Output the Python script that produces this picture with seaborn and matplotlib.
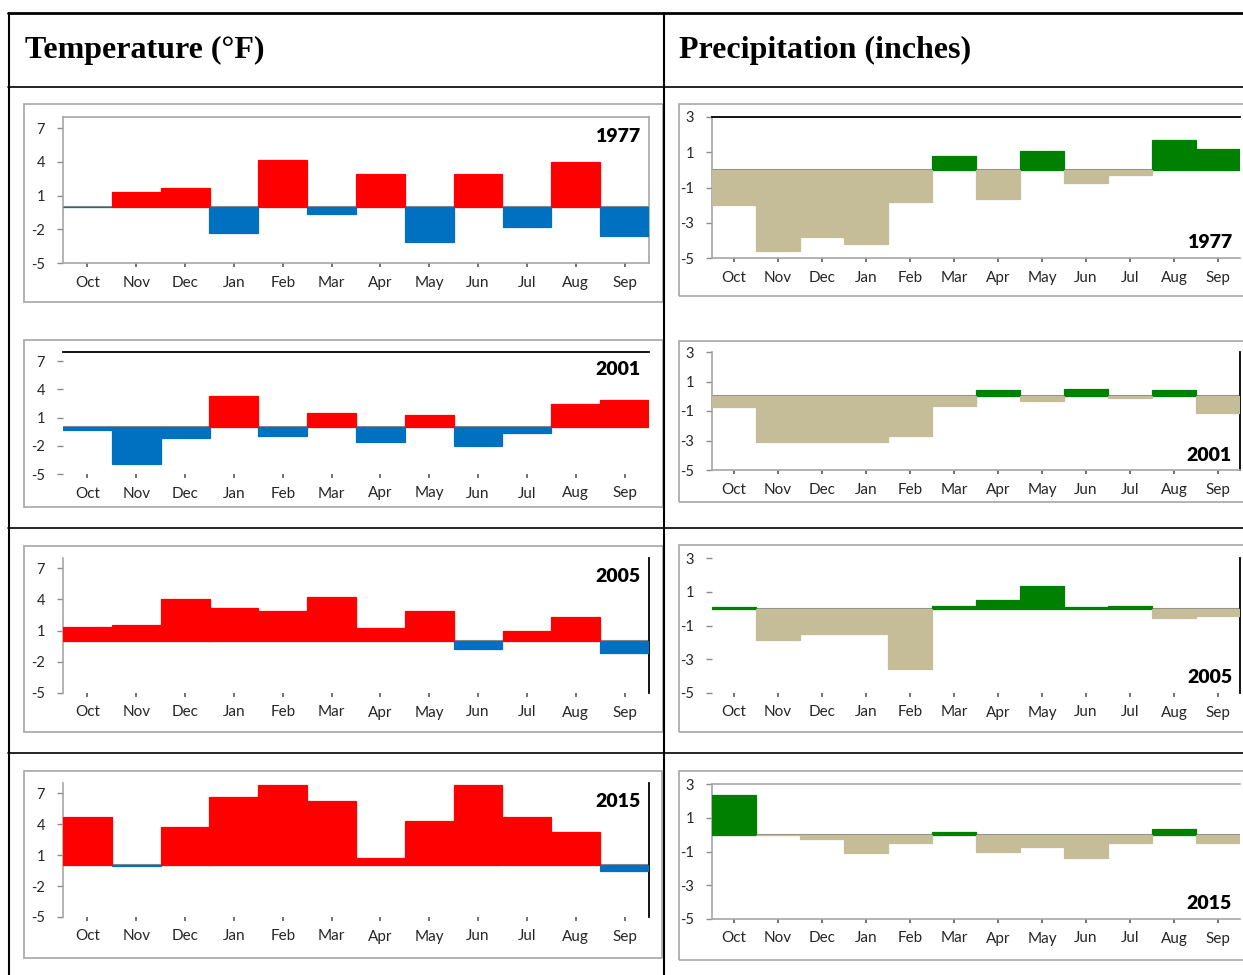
import matplotlib
matplotlib.use("Agg")
import matplotlib.pyplot as plt
import seaborn as sns
import pandas as pd
from matplotlib.lines import Line2D
from matplotlib.patches import Rectangle

sns.set_theme(style="white")
plt.rcParams['font.family'] = ['Lato', 'DejaVu Sans']

months = ['Oct', 'Nov', 'Dec', 'Jan', 'Feb', 'Mar', 'Apr', 'May', 'Jun', 'Jul', 'Aug', 'Sep']
years = ['1977', '2001', '2005', '2015']

temp_1977 = [-0.05, 1.3, 1.7, -2.3, 4.2, -0.65, 2.9, -3.1, 2.9, -1.8, 4.0, -2.6]
temp_2001 = [-0.35, -3.9, -1.2, 3.3, -1.0, 1.5, -1.6, 1.3, -2.0, -0.65, 2.45, 2.85]
temp_2005 = [1.35, 1.55, 4.05, 3.2, 2.9, 4.2, 1.2, 2.9, -0.75, 1.0, 2.3, -1.15]
temp_2015 = [4.65, -0.1, 3.7, 6.65, 7.8, 6.2, 0.7, 4.25, 7.8, 4.65, 3.25, -0.55]

prec_1977 = [-2.0, -4.6, -3.8, -4.2, -1.85, 0.8, -1.65, 1.08, -0.77, -0.29, 1.71, 1.19]
prec_2001 = [-0.7, -3.1, -3.1, -3.1, -2.7, -0.65, 0.42, -0.35, 0.52, -0.15, 0.42, -1.15]
prec_2005 = [0.1, -1.85, -1.5, -1.5, -3.6, 0.15, 0.5, 1.35, 0.08, 0.15, -0.58, -0.42]
prec_2015 = [2.37, -0.04, -0.23, -1.1, -0.47, 0.18, -1.0, -0.75, -1.4, -0.47, 0.31, -0.47]

temp_ticks = [-5, -2, 1, 4, 7]
prec_ticks = [-5, -3, -1, 1, 3]

W, H = 1243, 975
fig = plt.figure(figsize=(W / 100, H / 100), dpi=100)
fig.patch.set_facecolor('white')


def fx(x):
    return x / W


def fy(y):
    return 1 - y / H


def hline(y, x0, x1, lw=1.5, color='black'):
    fig.add_artist(Line2D([fx(x0), fx(x1)], [fy(y), fy(y)], transform=fig.transFigure,
                          color=color, lw=lw))


def vline(x, y0, y1, lw=1.5, color='black'):
    fig.add_artist(Line2D([fx(x), fx(x)], [fy(y0), fy(y1)], transform=fig.transFigure,
                          color=color, lw=lw))


def box(x0, y0, x1, y1):
    fig.add_artist(Rectangle((fx(x0), fy(y1)), fx(x1) - fx(x0), fy(y0) - fy(y1),
                             transform=fig.transFigure, fill=False,
                             edgecolor='#A6A6A6', lw=1.2))


# table grid
hline(13, 8, W, lw=2)
vline(9, 13, H, lw=1.5)
vline(664, 13, H, lw=1.5)
for y in (87, 528, 753):
    hline(y, 8, W, lw=1.2)

fig.text(fx(25), fy(50), 'Temperature (°F)', family='Liberation Serif', weight='bold',
         fontsize=23, va='center', ha='left', color='black')
fig.text(fx(679), fy(50), 'Precipitation (inches)', family='Liberation Serif', weight='bold',
         fontsize=23, va='center', ha='left', color='black')

# chart area boxes
temp_boxes = [(24, 104, 663, 302), (24, 340, 663, 507), (24, 546, 663, 732), (24, 771, 662, 958)]
prec_boxes = [(679, 104, 1250, 296), (679, 341, 1250, 502), (679, 545, 1250, 732), (679, 771, 1250, 960)]
for b in temp_boxes + prec_boxes:
    box(*b)

# axes pixel extents (x0, x1, ytop, ybottom)
temp_axes = [(63, 649, 116.75, 263), (63, 649, 351.6, 474), (63, 649, 557.6, 693), (63, 649, 782.7, 917)]
prec_axes = [(712, 1240, 117, 258), (712, 1240, 352, 470), (712, 1240, 558, 693), (712, 1240, 784, 919)]

temp_spines = [
    dict(left='#A6A6A6', right='#A6A6A6', top='#A6A6A6', bottom='#A6A6A6'),
    dict(top='black'),
    dict(left='#A6A6A6', right='black'),
    dict(left='#A6A6A6', right='black'),
]
prec_spines = [
    dict(left='#A6A6A6', top='black', bottom='#A6A6A6'),
    dict(left='#A6A6A6', right='black', bottom='#A6A6A6'),
    dict(right='black'),
    dict(left='#A6A6A6', top='#A6A6A6', bottom='#A6A6A6'),
]

temp_data = [temp_1977, temp_2001, temp_2005, temp_2015]
prec_data = [prec_1977, prec_2001, prec_2005, prec_2015]


def make_panel(ext, values, ylim, yticks, pos_col, neg_col, spines, year, year_pos):
    x0, x1, yt, yb = ext
    ax = fig.add_axes([fx(x0), fy(yb), fx(x1) - fx(x0), fy(yt) - fy(yb)])
    df = pd.DataFrame({'month': months, 'value': values})
    df['sign'] = ['pos' if v >= 0 else 'neg' for v in values]
    sns.barplot(data=df, x='month', y='value', hue='sign', order=months,
                hue_order=['pos', 'neg'], palette={'pos': pos_col, 'neg': neg_col},
                dodge=False, width=1.0, legend=False, ax=ax, saturation=1, zorder=3)
    for p in ax.patches:
        fc = p.get_facecolor()
        p.set_edgecolor(fc)
        p.set_linewidth(0.9)
    ax.axhline(0, color='#8C8C8C', lw=1.5, zorder=2)
    ax.set_xlim(-0.5, 11.5)
    ax.set_ylim(*ylim)
    ax.set_yticks(yticks)
    ax.set_yticklabels([str(t) for t in yticks])
    ax.set_xlabel('')
    ax.set_ylabel('')
    ax.set_facecolor('none')
    for s in ['left', 'right', 'top', 'bottom']:
        if s in spines:
            ax.spines[s].set_visible(True)
            ax.spines[s].set_color(spines[s])
            ax.spines[s].set_linewidth(1.3 if spines[s] == 'black' else 1.2)
        else:
            ax.spines[s].set_visible(False)
    ax.tick_params(axis='x', bottom=True, length=3, width=1.2, color='#595959',
                   pad=6, labelsize=11, labelcolor='#262626', direction='out')
    ax.tick_params(axis='y', left=True, length=4, width=1, color='#8C8C8C',
                   pad=9, labelsize=10.5, labelcolor='#262626', direction='out')
    if year_pos == 'top':
        ax.text(0.985, 0.92, year, transform=ax.transAxes, ha='right', va='top',
                fontsize=14, weight='heavy', color='black')
    else:
        ax.text(0.985, 0.05, year, transform=ax.transAxes, ha='right', va='bottom',
                fontsize=14, weight='heavy', color='black')
    return ax


for i in range(4):
    make_panel(temp_axes[i], temp_data[i], (-5, 8), temp_ticks,
               '#FF0000', '#0070C0', temp_spines[i], years[i], 'top')
    make_panel(prec_axes[i], prec_data[i], (-5, 3), prec_ticks,
               '#008000', '#C4BD97', prec_spines[i], years[i], 'bottom')

fig.savefig('out.png', dpi=100, facecolor='white')
